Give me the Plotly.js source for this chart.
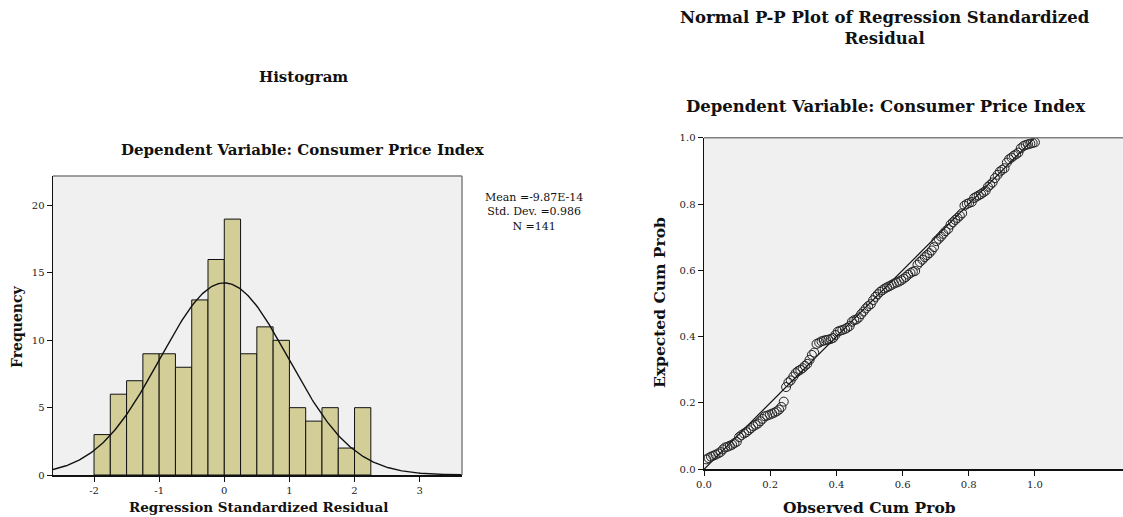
<!DOCTYPE html>
<html>
<head>
<meta charset="utf-8">
<script src="https://cdn.plot.ly/plotly-3.0.1.min.js"></script>
<style>html,body{margin:0;padding:0;background:#fff;}#chart{width:1123px;height:517px;}</style>
</head>
<body>
<div id="chart"></div>
<script>
// ---- Histogram data ----
const binCenters = [-1.875,-1.625,-1.375,-1.125,-0.875,-0.625,-0.375,-0.125,0.125,0.375,0.625,0.875,1.125,1.375,1.625,1.875,2.125];
const binCounts  = [3,6,7,9,9,8,13,16,19,9,11,10,5,4,5,2,5];
const binWidth = 0.25;
const statMean = -9.87e-14;
const statSD = 0.986;
const statN = 141;
const histXTicks = [-2,-1,0,1,2,3];
const histXTickText = ['-2','-1','0','1','2','3'];
const histYTicks = [0,5,10,15,20];

// ---- P-P plot data ----
const observedCum = [
 .007,.014,.021,.028,.035,.043,.050,.057,.064,.071,
 .078,.085,.092,.099,.106,.113,.121,.128,.135,.142,
 .149,.156,.163,.170,.177,.184,.191,.199,.206,.213,
 .220,.227,.234,.241,.248,.255,.262,.270,.277,.284,
 .291,.298,.305,.312,.319,.326,.333,.340,.348,.355,
 .362,.369,.376,.383,.390,.397,.404,.411,.418,.426,
 .433,.440,.447,.454,.461,.468,.475,.482,.489,.496,
 .504,.511,.518,.525,.532,.539,.546,.553,.560,.567,
 .574,.582,.589,.596,.603,.610,.617,.624,.631,.638,
 .645,.652,.660,.667,.674,.681,.688,.695,.702,.709,
 .716,.723,.730,.738,.745,.752,.759,.766,.773,.780,
 .787,.794,.801,.809,.816,.823,.830,.837,.844,.851,
 .858,.865,.872,.879,.887,.894,.901,.908,.915,.922,
 .929,.936,.943,.950,.957,.965,.972,.979,.986,.993,1.000];
const expectedCum = [
 .030,.034,.038,
 .041,.044,.048,.052,.060,.066,
 .068,.071,.074,.079,.083,.097,.103,
 .108,.112,.118,.124,.130,.134,.138,.145,.152,
 .160,.162,.165,.168,.171,.175,.180,.188,.204,
 .248,.262,.268,.280,.290,.296,.300,.305,
 .312,.318,.330,.345,.352,.378,.382,.386,.388,.390,.391,.393,.396,
 .405,.415,.418,.420,.423,.427,.432,.445,.450,.452,.458,.468,.476,.485,.492,.498,
 .510,.520,.528,.535,.540,.545,.549,.552,.556,.560,.563,.566,.570,.575,.580,.587,.592,.596,.598,
 .617,.625,.632,.640,.646,.652,.660,.670,.688,
 .695,.702,.710,.718,.725,.738,.745,.752,.758,.765,.772,
 .795,.800,.803,.806,.818,.822,.826,.830,.835,.840,
 .852,.858,.865,.878,.888,
 .898,.903,.908,.925,
 .935,.940,.946,.950,.955,
 .968,.975,
 .978,.980,.982,.984,.986];
const refLineX = [0, 1];
const refLineY = [0, 1];
const ppTicks = [0, 0.2, 0.4, 0.6, 0.8, 1.0];
const ppTickText = ['0.0','0.2','0.4','0.6','0.8','1.0'];

// normal curve from displayed statistics
const histRange = [-2.63, 3.65];
const curveX = [], curveY = [];
for (let x = histRange[0]; x <= histRange[1] + 1e-9; x += 0.02) {
  const z = (x - statMean) / statSD;
  curveX.push(x);
  curveY.push(statN * binWidth * Math.exp(-0.5 * z * z) / (statSD * Math.sqrt(2 * Math.PI)));
}

const serif = 'DejaVu Serif, Liberation Serif, serif';
const W = 1123, H = 517;
const px = v => v / W;
const py = v => (H - v) / H;

const traces = [
  {type:'bar', x: binCenters, y: binCounts, width: binWidth, xaxis:'x', yaxis:'y',
   marker:{color:'#d3ce98', line:{color:'#111', width:1}}, hoverinfo:'x+y'},
  {type:'scatter', mode:'lines', x: curveX, y: curveY, xaxis:'x', yaxis:'y',
   line:{color:'#111', width:1.4}, hoverinfo:'skip'},
  {type:'scatter', mode:'lines', x: refLineX, y: refLineY, xaxis:'x2', yaxis:'y2',
   line:{color:'#111', width:1.2}, hoverinfo:'skip'},
  {type:'scatter', mode:'markers', x: observedCum, y: expectedCum, xaxis:'x2', yaxis:'y2',
   marker:{symbol:'circle-open', size:9, color:'#222', line:{width:1, color:'#222'}}}
];

const tickFont = {family: serif, size: 10, color: '#222'};
const axisCommon = {showgrid:false, zeroline:false, showline:true, linecolor:'#111', linewidth:1.5,
  ticks:'outside', ticklen:5, tickcolor:'#111', tickwidth:1, tickfont: tickFont, fixedrange:true};

function ann(text, x, y, size, extra) {
  return Object.assign({text: text, x: px(x), y: py(y), xref:'paper', yref:'paper', showarrow:false,
    xanchor:'center', yanchor:'middle', font:{family:serif, size:size, color:'#111'}}, extra || {});
}

const layout = {
  width: W, height: H, margin:{l:0, r:0, t:0, b:0},
  paper_bgcolor:'#fff', plot_bgcolor:'#f0f0f0', showlegend:false, bargap:0,
  font:{family: serif, color:'#111'},
  xaxis: Object.assign({}, axisCommon, {domain:[px(53), px(462)], range: histRange,
    tickvals: histXTicks, ticktext: histXTickText, anchor:'y'}),
  yaxis: Object.assign({}, axisCommon, {domain:[py(475), py(176)], range:[0, 22.2],
    tickvals: histYTicks, anchor:'x'}),
  xaxis2: Object.assign({}, axisCommon, {domain:[px(704), 1], range:[0, 1.266],
    tickvals: ppTicks, ticktext: ppTickText, anchor:'y2'}),
  yaxis2: Object.assign({}, axisCommon, {domain:[py(469.3), py(137.7)], range:[0, 1],
    tickvals: ppTicks, ticktext: ppTickText, anchor:'x2'}),
  shapes: [
    {type:'line', xref:'x domain', yref:'y domain', x0:0, x1:1, y0:1, y1:1, line:{color:'#808080', width:1.5}},
    {type:'line', xref:'x domain', yref:'y domain', x0:1, x1:1, y0:0, y1:1, line:{color:'#808080', width:1.5}},
    {type:'line', xref:'x2 domain', yref:'y2 domain', x0:0, x1:1, y0:1, y1:1, line:{color:'#808080', width:1.5}}
  ],
  annotations: [
    ann('<b>Histogram</b>', 303, 77, 15),
    ann('<b>Dependent Variable: Consumer Price Index</b>', 303, 150, 15),
    ann('Mean =-9.87E-14<br>Std. Dev. =0.986<br>N =141', 534, 212, 11, {align:'center'}),
    ann('<b>Frequency</b>', 17, 327, 14, {textangle:-90}),
    ann('<b>Regression Standardized Residual</b>', 258, 507, 13.5),
    ann('<b>Normal P-P Plot of Regression Standardized<br>Residual</b>', 885, 28, 16.5),
    ann('<b>Dependent Variable: Consumer Price Index</b>', 885, 107, 16.5),
    ann('<b>Expected Cum Prob</b>', 659, 303, 15.5, {textangle:-90}),
    ann('<b>Observed Cum Prob</b>', 869, 507, 15.5)
  ]
};

Plotly.newPlot('chart', traces, layout, {displayModeBar:false, staticPlot:true});
</script>
</body>
</html>
